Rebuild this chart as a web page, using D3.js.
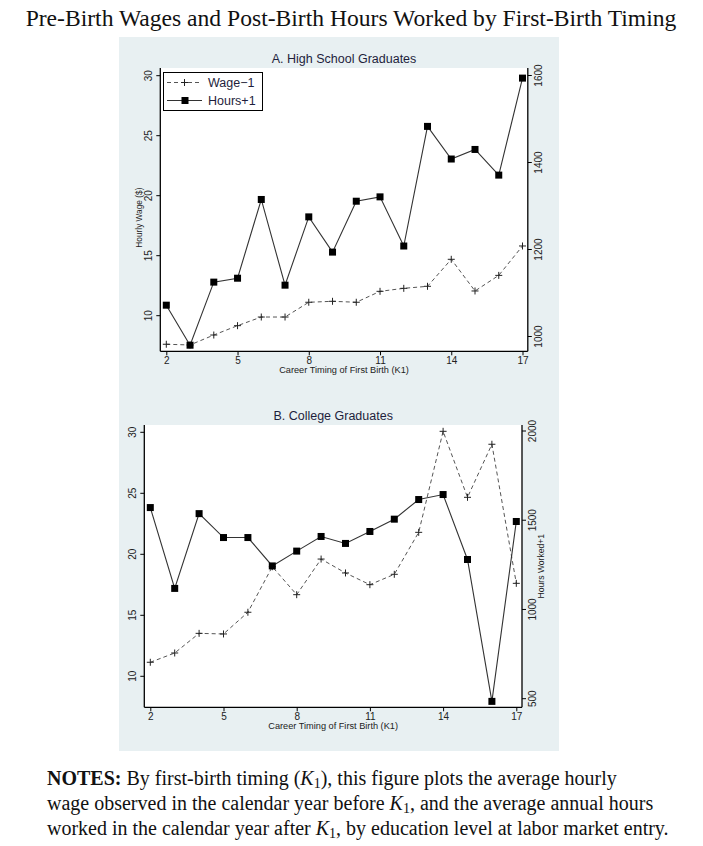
<!DOCTYPE html>
<html><head><meta charset="utf-8">
<script src="https://cdn.jsdelivr.net/npm/d3@7"></script>
<style>
body{margin:0;background:#fff;}
svg{display:block;}
</style></head>
<body>
<svg id="c" width="703" height="846"></svg>
<script>
const timing = [2,3,4,5,6,7,8,9,10,11,12,13,14,15,16,17];
const xTicks = [2,5,8,11,14,17];
const wageHS  = [7.62,7.56,8.39,9.17,9.89,9.89,11.12,11.2,11.12,12.03,12.28,12.45,14.7,12.06,13.36,15.81];
const hoursHS = [1072,980,1125,1134,1315,1118,1275,1194,1311,1321,1208,1483,1408,1430,1371,1594];
const wageCol  = [11.15,11.91,13.52,13.47,15.25,18.98,16.69,19.61,18.47,17.51,18.36,21.8,30.08,24.67,29.02,17.62];
const hoursCol = [1571,1118,1537,1403,1403,1244,1327,1409,1370,1437,1506,1616,1644,1280,485,1493];
const wageTicks = [10,15,20,25,30];
const hoursTicksHS = [1000,1200,1400,1600];
const hoursTicksCol = [500,1000,1500,2000];
const legendLabels = ["Wage\u22121","Hours+1"];

const svg = d3.select("#c");
const sans = "'Liberation Sans', Arial, sans-serif";
const serif = "'Liberation Serif', 'Times New Roman', serif";

svg.append("text").attr("x",351).attr("y",26).attr("text-anchor","middle")
  .attr("font-family",serif).attr("font-size",23.6).attr("fill","#111")
  .text("Pre-Birth Wages and Post-Birth Hours Worked by First-Birth Timing");

svg.append("rect").attr("x",119).attr("y",37).attr("width",440).attr("height",714).attr("fill","#e8f0f2");

function panel(o){
  const g = svg.append("g");
  const x = d3.scaleLinear().domain([2,17]).range([o.x2,o.x17]);
  const yL = d3.scaleLinear().domain([10,30]).range([o.y10,o.y30]);
  const yR = d3.scaleLinear().domain(o.rDom).range(o.rRange);
  g.append("rect").attr("x",o.left).attr("y",o.top).attr("width",o.right-o.left).attr("height",o.bottom-o.top).attr("fill","#fff");
  g.append("text").attr("x",(o.left+o.right)/2).attr("y",o.top-5).attr("text-anchor","middle")
    .attr("font-family",sans).attr("font-size",12.5).attr("fill","#1e1e3c").text(o.title);
  const ax = g.append("g").attr("transform",`translate(0,${o.bottom})`)
    .call(d3.axisBottom(x).tickValues(xTicks).tickSize(4).tickPadding(2));
  const ay = g.append("g").attr("transform",`translate(${o.left},0)`)
    .call(d3.axisLeft(yL).tickValues(wageTicks).tickSize(4));
  const ar = g.append("g").attr("transform",`translate(${o.right},0)`)
    .call(d3.axisRight(yR).tickValues(o.rTicks).tickFormat(d3.format("d")).tickSize(4));
  [ax,ay,ar].forEach(a=>{
    a.select(".domain").remove();
    a.selectAll("line").attr("stroke","#000");
    a.selectAll("text").attr("font-family",sans).attr("font-size",10).attr("fill","#222");
  });
  ay.selectAll(".tick").attr("transform",null);
  ay.selectAll(".tick line").attr("y1",d=>yL(d)).attr("y2",d=>yL(d));
  ay.selectAll(".tick text").each(function(d){
    d3.select(this).attr("transform",`translate(-8,${yL(d)}) rotate(-90)`).attr("x",0).attr("y",0).attr("dy","0").attr("text-anchor","middle");
  });
  ar.selectAll(".tick").attr("transform",null);
  ar.selectAll(".tick line").attr("y1",d=>yR(d)).attr("y2",d=>yR(d));
  ar.selectAll(".tick text").each(function(d){
    d3.select(this).attr("transform",`translate(14,${yR(d)}) rotate(-90)`).attr("x",0).attr("y",0).attr("dy","0").attr("text-anchor","middle");
  });
  ax.selectAll(".tick text").attr("dy","0.71em");
  g.append("line").attr("x1",o.left).attr("x2",o.left).attr("y1",o.top).attr("y2",o.bottom).attr("stroke","#000").attr("stroke-width",1.3);
  g.append("line").attr("x1",o.right).attr("x2",o.right).attr("y1",o.top).attr("y2",o.bottom).attr("stroke","#000").attr("stroke-width",1.3);
  g.append("line").attr("x1",o.left).attr("x2",o.right).attr("y1",o.bottom).attr("y2",o.bottom).attr("stroke","#000").attr("stroke-width",1.3);
  g.append("text").attr("x",(o.left+o.right)/2).attr("y",o.bottom+22).attr("text-anchor","middle")
    .attr("font-family",sans).attr("font-size",9.2).attr("fill","#222").text("Career Timing of First Birth (K1)");
  if(o.leftTitle){
    g.append("text").attr("transform",`translate(${o.left-18},${(o.top+o.bottom)/2+8}) rotate(-90)`).attr("text-anchor","middle")
      .attr("font-family",sans).attr("font-size",8.3).attr("fill","#222").text(o.leftTitle);
  }
  if(o.rightTitle){
    g.append("text").attr("transform",`translate(${o.right+22},${(o.top+o.bottom)/2}) rotate(-90)`).attr("text-anchor","middle")
      .attr("font-family",sans).attr("font-size",8.6).attr("fill","#222").text(o.rightTitle);
  }
  const wd = timing.map((t,i)=>[t,o.wage[i]]);
  const hd = timing.map((t,i)=>[t,o.hours[i]]);
  g.append("path").datum(wd).attr("fill","none").attr("stroke","#555").attr("stroke-width",1)
    .attr("stroke-dasharray","4,3").attr("d",d3.line().x(d=>x(d[0])).y(d=>yL(d[1])));
  g.append("path").datum(hd).attr("fill","none").attr("stroke","#333").attr("stroke-width",1.1)
    .attr("d",d3.line().x(d=>x(d[0])).y(d=>yR(d[1])));
  g.selectAll(".plus").data(wd).enter().append("path")
    .attr("d",d=>{const cx=x(d[0]),cy=yL(d[1]);return `M${cx-3.5},${cy}H${cx+3.5}M${cx},${cy-3.5}V${cy+3.5}`;})
    .attr("stroke","#222").attr("stroke-width",1);
  g.selectAll(".sq").data(hd).enter().append("rect")
    .attr("x",d=>x(d[0])-3.5).attr("y",d=>yR(d[1])-3.5).attr("width",7).attr("height",7).attr("fill","#000");
  if(o.legend){
    const lg = g.append("g");
    lg.append("rect").attr("x",163.5).attr("y",72.5).attr("width",99).attr("height",38).attr("fill","#fff").attr("stroke","#000").attr("stroke-width",1);
    lg.append("line").attr("x1",167).attr("x2",202).attr("y1",82.5).attr("y2",82.5).attr("stroke","#555").attr("stroke-dasharray","4,3");
    lg.append("path").attr("d","M181,82.5H188M184.5,79V86").attr("stroke","#222");
    lg.append("line").attr("x1",167).attr("x2",202).attr("y1",100.5).attr("y2",100.5).attr("stroke","#333");
    lg.append("rect").attr("x",181.5).attr("y",97).attr("width",7).attr("height",7).attr("fill","#000");
    lg.selectAll("text.l").data(legendLabels).enter().append("text")
      .attr("x",208).attr("y",(d,i)=>87+i*18).attr("font-family",sans).attr("font-size",12.5).attr("fill","#1e1e3c").text(d=>d);
  }
}

panel({title:"A. High School Graduates",left:160.3,right:527.8,top:68,bottom:351.3,
  x2:166.3,x17:522.5,y10:315.7,y30:75.7,rDom:[1000,1600],rRange:[336.5,75.5],rTicks:hoursTicksHS,
  wage:wageHS,hours:hoursHS,legend:true,leftTitle:"Hourly Wage ($)"});
panel({title:"B. College Graduates",left:144.3,right:522,top:425,bottom:707.3,
  x2:150.3,x17:516.3,y10:676.3,y30:432.3,rDom:[500,2000],rRange:[698.7,431],rTicks:hoursTicksCol,
  wage:wageCol,hours:hoursCol,legend:false,rightTitle:"Hours Worked+1"});

const notes = svg.append("text").attr("font-family",serif).attr("font-size",20).attr("fill","#111");
const l1 = notes.append("tspan").attr("x",47).attr("y",785);
l1.append("tspan").attr("font-weight","bold").text("NOTES:");
l1.append("tspan").text(" By first-birth timing (");
l1.append("tspan").attr("font-style","italic").text("K");
l1.append("tspan").attr("font-size",14).attr("dy",3).text("1");
l1.append("tspan").attr("dy",-3).text("), this figure plots the average hourly");
const l2 = notes.append("tspan").attr("x",47).attr("y",810);
l2.append("tspan").text("wage observed in the calendar year before ");
l2.append("tspan").attr("font-style","italic").text("K");
l2.append("tspan").attr("font-size",14).attr("dy",3).text("1");
l2.append("tspan").attr("dy",-3).text(", and the average annual hours");
const l3 = notes.append("tspan").attr("x",47).attr("y",835);
l3.append("tspan").text("worked in the calendar year after ");
l3.append("tspan").attr("font-style","italic").text("K");
l3.append("tspan").attr("font-size",14).attr("dy",3).text("1");
l3.append("tspan").attr("dy",-3).text(", by education level at labor market entry.");
</script>
</body></html>
